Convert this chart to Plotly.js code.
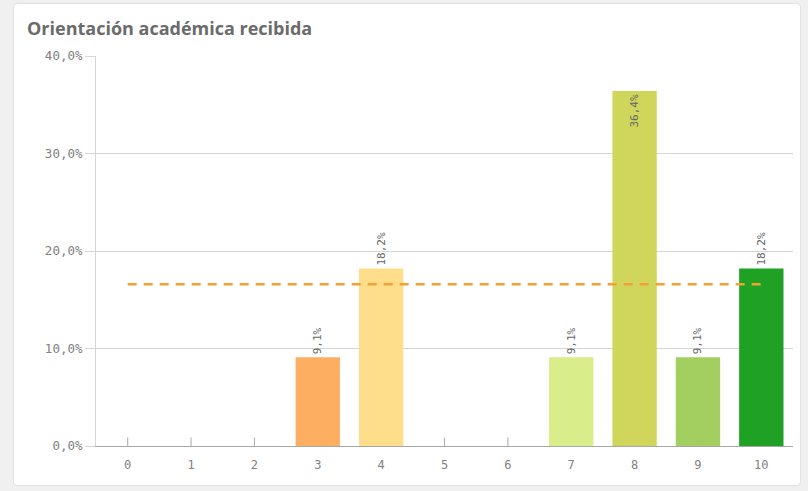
<!DOCTYPE html>
<html>
<head>
<meta charset="utf-8">
<script src="https://cdn.plot.ly/plotly-3.0.1.min.js"></script>
<style>
  html, body { margin: 0; padding: 0; background: #f0f0f0; width: 808px; height: 491px; overflow: hidden; }
  #card { position: absolute; left: 13px; top: 3px; width: 786px; height: 481px; background: #fff; border: 1px solid #e2e2e2; border-radius: 4px; }
  #chart { position: absolute; left: 0; top: 0; width: 808px; height: 491px; }
</style>
</head>
<body>
<div id="card"></div>
<div id="chart"></div>
<script>
const categories = ['0','1','2','3','4','5','6','7','8','9','10'];
const values = [0, 0, 0, 9.1, 18.2, 0, 0, 9.1, 36.4, 9.1, 18.2];
const barColors = ['#fdae61','#fdae61','#fdae61','#fdae61','#fede8a','#fede8a','#fede8a','#d9ed8a','#cfd65b','#a2cf5f','#1fa224'];
const averageValue = 16.6;
const tickVals = [0, 10, 20, 30, 40];
const tickLabels = ['0,0%', '10,0%', '20,0%', '30,0%', '40,0%'];

const labels = values.map(v => v > 0 ? v.toFixed(1).replace('.', ',') + '%' : '');
const positions = values.map(v => v > 30 ? 'inside' : 'outside');
const zeroX = categories.filter((c, i) => values[i] === 0);
const zeroY = values.filter(v => v === 0);

const mono = 'DejaVu Sans Mono, monospace';

const traces = [
  {
    type: 'bar',
    x: categories,
    y: values,
    width: 0.7,
    marker: { color: barColors },
    text: labels,
    textposition: positions,
    insidetextanchor: 'end',
    textangle: -90,
    textfont: { family: mono, size: 11, color: '#666' },
    insidetextfont: { family: mono, size: 11, color: '#666' },
    outsidetextfont: { family: mono, size: 11, color: '#666' },
    constraintext: 'none',
    cliponaxis: false,
    hoverinfo: 'none'
  },
  {
    type: 'scatter',
    mode: 'markers',
    x: zeroX,
    y: zeroY,
    cliponaxis: true,
    marker: { symbol: 'line-ns', size: 12, color: '#b5b5b5', line: { color: '#b5b5b5', width: 1.2 } },
    hoverinfo: 'none'
  },
  {
    type: 'scatter',
    mode: 'lines',
    x: categories,
    y: categories.map(() => averageValue),
    line: { color: '#f5a033', width: 2.5, dash: '9px,7px' },
    hoverinfo: 'none'
  }
];

const layout = {
  width: 808,
  height: 491,
  paper_bgcolor: 'rgba(0,0,0,0)',
  plot_bgcolor: 'rgba(0,0,0,0)',
  margin: { l: 96, r: 15, t: 56, b: 45 },
  showlegend: false,
  title: {
    text: '<b>Orientación académica recibida</b>',
    font: { family: 'Open Sans, sans-serif', size: 18, color: '#6b6b6b' },
    xref: 'container', yref: 'container',
    x: 27 / 808, xanchor: 'left',
    y: 1 - 29 / 491, yanchor: 'middle'
  },
  xaxis: {
    type: 'category',
    range: [-0.5, 10.5],
    showgrid: false,
    showline: true,
    linecolor: '#a8a8a8',
    linewidth: 1,
    ticks: 'outside',
    ticklen: 8,
    tickcolor: 'rgba(0,0,0,0)',
    tickfont: { family: mono, size: 12, color: '#808080' },
    zeroline: false,
    layer: 'above traces'
  },
  yaxis: {
    range: [0, 40],
    tickmode: 'array',
    tickvals: tickVals,
    ticktext: tickLabels,
    showgrid: true,
    gridcolor: '#d4d4d4',
    gridwidth: 1,
    showline: true,
    linecolor: '#d4d4d4',
    ticks: 'outside',
    ticklen: 10,
    tickcolor: '#d4d4d4',
    tickfont: { family: mono, size: 12.5, color: '#808080' },
    zeroline: false,
    layer: 'below traces'
  }
};

Plotly.newPlot('chart', traces, layout, { displayModeBar: false, staticPlot: true });
</script>
</body>
</html>
